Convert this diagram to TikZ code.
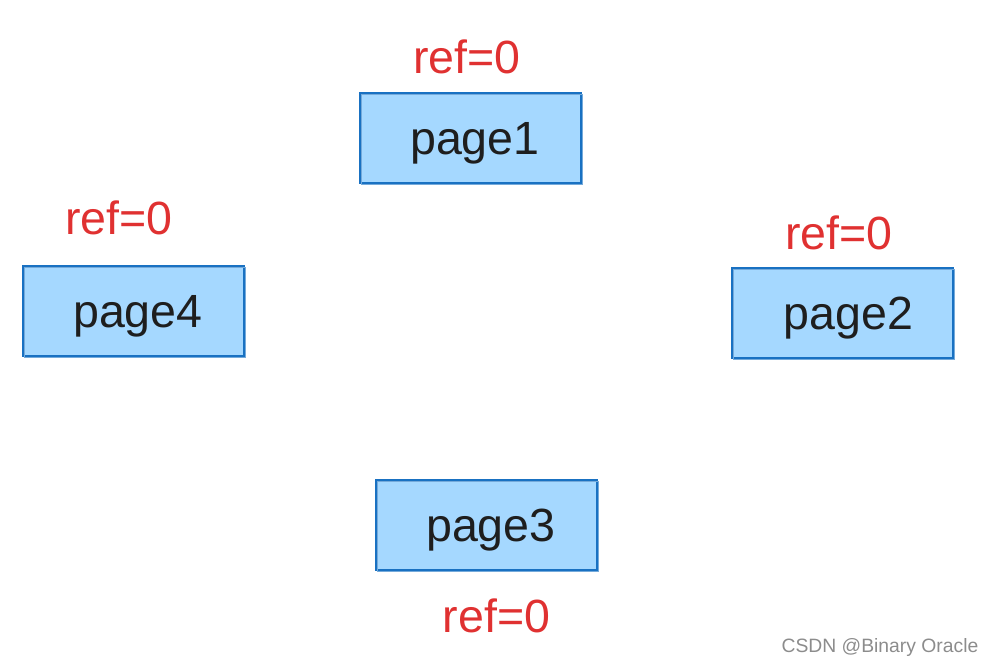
\documentclass[tikz,border=0pt]{standalone}
\usepackage{fontspec}
\setmainfont{Liberation Sans}

\definecolor{boxfill}{HTML}{A5D8FF}
\definecolor{boxline}{HTML}{1971C2}
\definecolor{refred}{HTML}{E03131}
\definecolor{inktext}{HTML}{1E1E1E}

\tikzset{
	pagebox/.style={shape=rectangle, fill=boxfill, draw=boxline, line width=1.1pt, minimum width=4.42cm, minimum height=1.8cm, text=inktext, font=\fontsize{26.5}{30}\selectfont, text height=24pt, text depth=5.6pt,
		postaction={draw=boxline!60, line width=0.5pt, transform canvas={shift={(0.6pt,-0.8pt)}}}},
	reflabel/.style={text=refred, font=\fontsize{26.5}{30}\selectfont, inner sep=0pt},
}

\begin{document}
\begin{tikzpicture}[x=0.02cm, y=-0.02cm]
	% Frame:
	\useasboundingbox (0, 0) rectangle (995, 668);
	% Pages and counters:
	\node[pagebox] (page1) at (470.5, 138){\hspace*{5pt}page1};
	\node[pagebox] (page2) at (842.5, 313){\hspace*{7pt}page2};
	\node[pagebox] (page3) at (486.5, 525){\hspace*{5pt}page3};
	\node[pagebox] (page4) at (133.5, 311){\hspace*{5pt}page4};
	\node[reflabel] (ref1) at (467, 57){ref=0};
	\node[reflabel] (ref2) at (839, 233){ref=0};
	\node[reflabel] (ref3) at (496.5, 616){ref=0};
	\node[reflabel] (ref4) at (119, 218){ref=0};
	% Watermark:
	\node[text=black!45, font=\fontsize{11}{13}\selectfont, inner sep=0pt] (mark) at (880, 648){CSDN @Binary Oracle};
\end{tikzpicture}
\end{document}
